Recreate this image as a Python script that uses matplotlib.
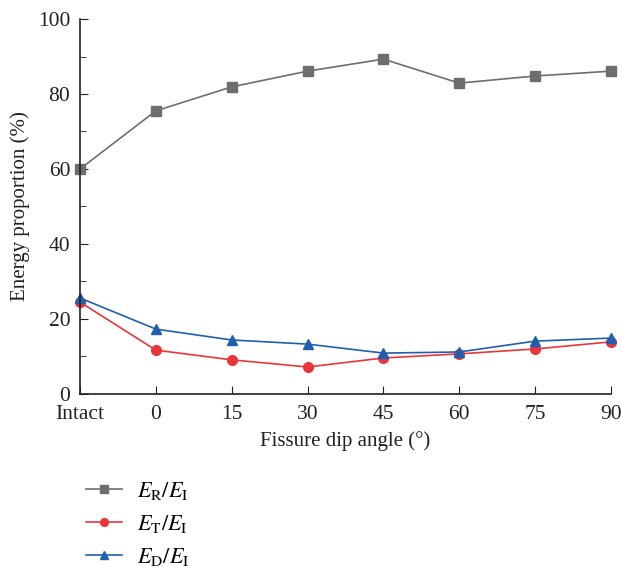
import matplotlib
matplotlib.use("Agg")
import matplotlib.pyplot as plt
from matplotlib.ticker import MultipleLocator

plt.rcParams['font.family'] = ['Liberation Serif', 'DejaVu Serif']
plt.rcParams['mathtext.fontset'] = 'stix'

categories = ["Intact", "0", "15", "30", "45", "60", "75", "90"]
er_ei = [60.0, 75.5, 81.9, 86.1, 89.3, 82.9, 84.8, 86.1]
et_ei = [24.5, 11.7, 9.1, 7.2, 9.6, 10.7, 12.0, 13.9]
ed_ei = [25.6, 17.3, 14.4, 13.3, 10.9, 11.2, 14.1, 14.9]

fig = plt.figure(figsize=(6.22, 5.69), dpi=100)
ax = fig.add_axes([0.1286, 0.3076, 0.9823 - 0.1286, 0.9666 - 0.3076])
x = list(range(len(categories)))

l1, = ax.plot(x, er_ei, color='#6e6e6e', marker='s', markersize=7, lw=1.2, label=r'$E_{\mathrm{R}}/E_{\mathrm{I}}$', clip_on=False)
l2, = ax.plot(x, et_ei, color='#e8363a', marker='o', markersize=7, lw=1.2, label=r'$E_{\mathrm{T}}/E_{\mathrm{I}}$', clip_on=False)
l3, = ax.plot(x, ed_ei, color='#1f5fb0', marker='^', markersize=7.5, lw=1.2, label=r'$E_{\mathrm{D}}/E_{\mathrm{I}}$', clip_on=False)

ax.set_xlim(0, 7)
ax.set_ylim(0, 100)
ax.set_xticks(x)
ax.set_xticklabels(categories)
ax.yaxis.set_major_locator(MultipleLocator(20))
ax.yaxis.set_minor_locator(MultipleLocator(10))
ax.tick_params(axis='both', which='both', direction='in', labelsize=15.5, color='#222222', labelcolor='#222222')
ax.tick_params(axis='both', which='major', length=6)
ax.tick_params(axis='y', which='minor', length=4)
ax.tick_params(axis='y', which='major', pad=7)
ax.tick_params(axis='x', which='major', pad=8)
ax.spines['top'].set_visible(False)
ax.spines['right'].set_visible(False)
for s in ['left', 'bottom']:
    ax.spines[s].set_color('#222222')
    ax.spines[s].set_linewidth(1.2)

ax.set_xlabel('Fissure dip angle (°)', fontsize=15, color='#222222', labelpad=5)
ax.set_ylabel('Energy proportion (%)', fontsize=15, color='#222222', labelpad=6)

fig.legend(handles=[l1, l2, l3], loc='upper left', bbox_to_anchor=(0.124, 0.172),
           frameon=False, fontsize=16, handlelength=1.6, labelspacing=0.5,
           handletextpad=0.7, borderaxespad=0, markerscale=0.8)

fig.savefig('out.png', dpi=100)
